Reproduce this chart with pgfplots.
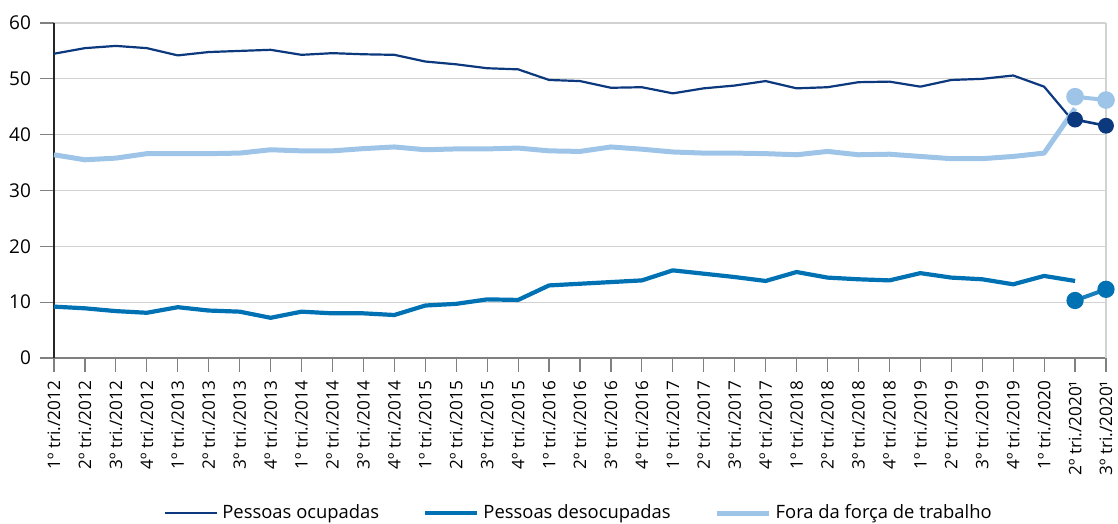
\documentclass[border=0pt]{standalone}
\usepackage{fontspec}
\setmainfont{Open Sans}
\usepackage{pgfplots}
\pgfplotsset{compat=1.18}
\definecolor{cDark}{RGB}{12,56,126}
\definecolor{cMed}{RGB}{0,114,180}
\definecolor{cLight}{RGB}{158,197,232}
\definecolor{cGrid}{RGB}{210,210,210}
\definecolor{cAxis}{RGB}{128,128,128}
\begin{document}
\begin{tikzpicture}
\path[use as bounding box] (0pt,0pt) rectangle (559pt,-262pt);
\begin{axis}[
  at={(27pt,-179pt)}, anchor=south west,
  scale only axis, width=526pt, height=167.5pt,
  xmin=0, xmax=34, ymin=0, ymax=60,
  ytick={0,10,...,60},
  xtick={0,...,34},
  xticklabels={1º tri./2012,2º tri./2012,3º tri./2012,4º tri./2012,
    1º tri./2013,2º tri./2013,3º tri./2013,4º tri./2013,
    1º tri./2014,2º tri./2014,3º tri./2014,4º tri./2014,
    1º tri./2015,2º tri./2015,3º tri./2015,4º tri./2015,
    1º tri./2016,2º tri./2016,3º tri./2016,4º tri./2016,
    1º tri./2017,2º tri./2017,3º tri./2017,4º tri./2017,
    1º tri./2018,2º tri./2018,3º tri./2018,4º tri./2018,
    1º tri./2019,2º tri./2019,3º tri./2019,4º tri./2019,
    1º tri./2020,2º tri./2020¹,3º tri./2020¹},
  axis x line*=bottom, axis y line*=left,
  x axis line style={cAxis, line width=0.9pt},
  y axis line style={black!85, line width=0.6pt},
  tick align=outside, major tick length=7pt,
  x tick style={cAxis, line width=0.6pt},
  y tick style={cAxis, line width=0.6pt},
  ymajorgrids, grid style={cGrid, line width=0.6pt},
  /pgf/number format/assume math mode=true,
  yticklabel style={font=\fontsize{9.5}{11}\selectfont, xshift=-1pt},
  xticklabel style={font=\fontsize{8.6}{10}\selectfont, rotate=90, anchor=east, xshift=-1pt},
  legend style={draw=none, fill=none, at={(0.5,-0.463)}, anchor=center,
    font=\fontsize{9.2}{11}\selectfont, legend columns=3,
    /tikz/every even column/.append style={column sep=20pt},
    inner sep=0pt},
  legend image code/.code={\draw[#1] (0pt,0pt) -- (26pt,0pt);},
  clip=false,
]
\draw[cGrid, line width=0.6pt] (axis cs:34,0) -- (axis cs:34,60);
\addplot[cDark, line width=1.1pt, line join=round] coordinates {
(0,54.5)(1,55.5)(2,55.9)(3,55.5)(4,54.2)(5,54.8)(6,55.0)(7,55.2)(8,54.3)(9,54.6)
(10,54.4)(11,54.3)(12,53.1)(13,52.6)(14,51.9)(15,51.7)(16,49.8)(17,49.6)(18,48.4)(19,48.5)
(20,47.4)(21,48.3)(22,48.8)(23,49.6)(24,48.3)(25,48.5)(26,49.4)(27,49.5)(28,48.6)(29,49.8)
(30,50.0)(31,50.6)(32,48.6)(33,42.0)};
\addlegendentry{Pessoas ocupadas}
\addplot[cMed, line width=2.1pt, line join=round] coordinates {
(0,9.2)(1,8.9)(2,8.4)(3,8.1)(4,9.1)(5,8.5)(6,8.3)(7,7.2)(8,8.3)(9,8.0)
(10,8.0)(11,7.7)(12,9.4)(13,9.7)(14,10.5)(15,10.4)(16,13.0)(17,13.3)(18,13.6)(19,13.9)
(20,15.7)(21,15.1)(22,14.5)(23,13.8)(24,15.4)(25,14.4)(26,14.1)(27,13.9)(28,15.2)(29,14.4)
(30,14.1)(31,13.2)(32,14.7)(33,13.8)};
\addlegendentry{Pessoas desocupadas}
\addplot[cLight, line width=2.5pt, line join=round] coordinates {
(0,36.4)(1,35.5)(2,35.8)(3,36.6)(4,36.6)(5,36.6)(6,36.7)(7,37.3)(8,37.1)(9,37.1)
(10,37.5)(11,37.8)(12,37.3)(13,37.45)(14,37.45)(15,37.6)(16,37.1)(17,37.0)(18,37.8)(19,37.4)
(20,36.9)(21,36.7)(22,36.7)(23,36.6)(24,36.4)(25,37.0)(26,36.4)(27,36.5)(28,36.1)(29,35.7)
(30,35.7)(31,36.1)(32,36.7)(33,44.7)};
\addlegendentry{Fora da força de trabalho}
\addplot[cLight, line width=2pt, mark=*, mark size=3.4pt, forget plot] coordinates {(33,46.8)(34,46.2)};
\addplot[cDark, line width=1.3pt, mark=*, mark size=3.3pt, forget plot] coordinates {(33,42.7)(34,41.6)};
\addplot[cMed!85!cLight, line width=2pt, mark=*, mark size=3.3pt, mark options={fill=cMed, draw=cMed}, forget plot] coordinates {(33,10.3)(34,12.3)};
\end{axis}
\end{tikzpicture}
\end{document}
